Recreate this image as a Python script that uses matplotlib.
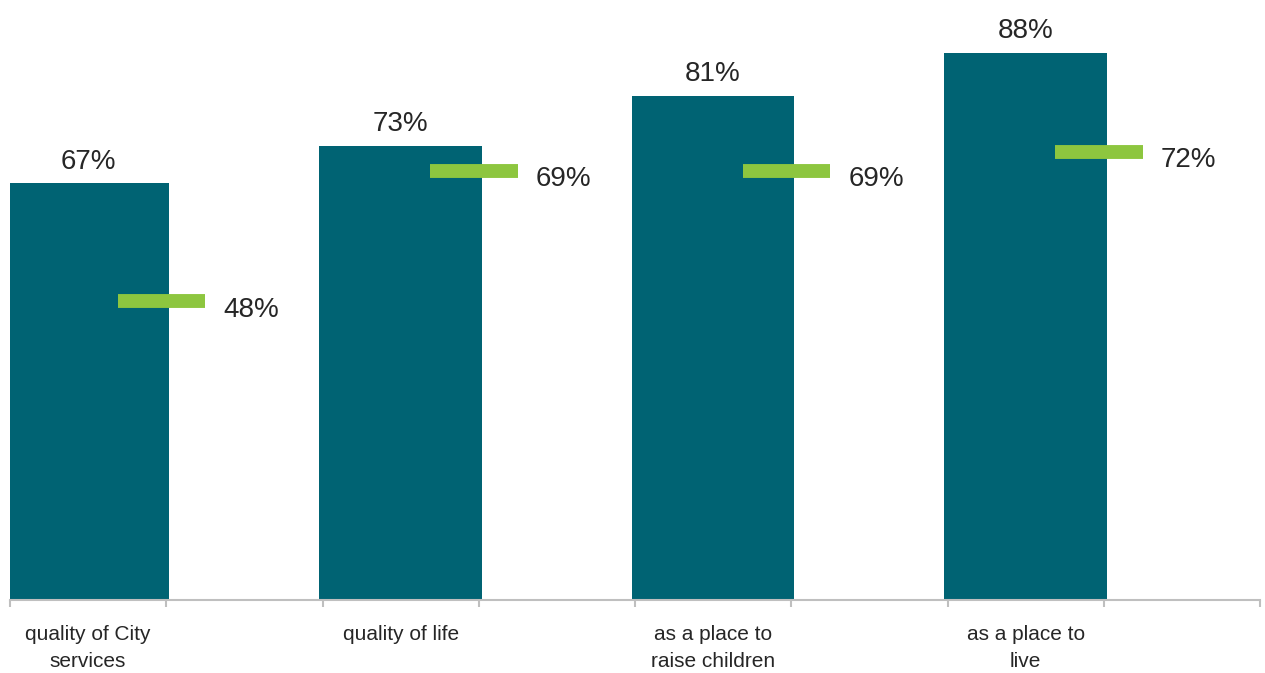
import matplotlib
matplotlib.use("Agg")
import matplotlib.pyplot as plt
from matplotlib import font_manager

categories = ["quality of City\nservices", "quality of life", "as a place to\nraise children", "as a place to\nlive"]
bar_values = [67, 73, 81, 88]
marker_values = [48, 69, 69, 72]

names = {f.name for f in font_manager.fontManager.ttflist}
fam = "Liberation Sans Narrow" if "Liberation Sans Narrow" in names else "Liberation Sans"
plt.rcParams["font.family"] = [fam, "DejaVu Sans"]

BAR = "#006373"
GREEN = "#8DC63F"
TXT = "#262626"
AXC = "#BFBFBF"

fig = plt.figure(figsize=(12.65, 6.73), dpi=100)
ax = fig.add_axes([10 / 1265, 1 - 600 / 673, 1250 / 1265, 560 / 673])
ax.set_xlim(-0.5, 7.5)
ax.set_ylim(0, 560 / 6.22)

xs = [2 * i for i in range(len(categories))]
ax.bar(xs, bar_values, width=1.04, color=BAR, edgecolor="none", zorder=2)

off = 0.47
half = 0.28
for x, v in zip(xs, marker_values):
    ax.hlines(v, x + off - half, x + off + half, colors=GREEN, lw=10, zorder=3)
    ax.text(x + off + half + 0.115, v - 1.3, f"{v}%", ha="left", va="center",
            fontsize=20, color=TXT, zorder=4)

for x, v in zip(xs, bar_values):
    ax.text(x, v + 1.4, f"{v}%", ha="center", va="bottom", fontsize=20, color=TXT)

for x, c in zip(xs, categories):
    ax.text(x, -4.0, c, ha="center", va="top", fontsize=15, color=TXT,
            linespacing=1.55)

for s in ["top", "right", "left"]:
    ax.spines[s].set_visible(False)
ax.spines["bottom"].set_color(AXC)
ax.spines["bottom"].set_linewidth(1.5)
ax.set_yticks([])
ax.set_xticks([i - 0.5 for i in range(9)])
ax.set_xticklabels([])
ax.tick_params(axis="x", direction="out", length=5, width=1.5, color=AXC)

fig.savefig("out.png", dpi=100, facecolor="white")
